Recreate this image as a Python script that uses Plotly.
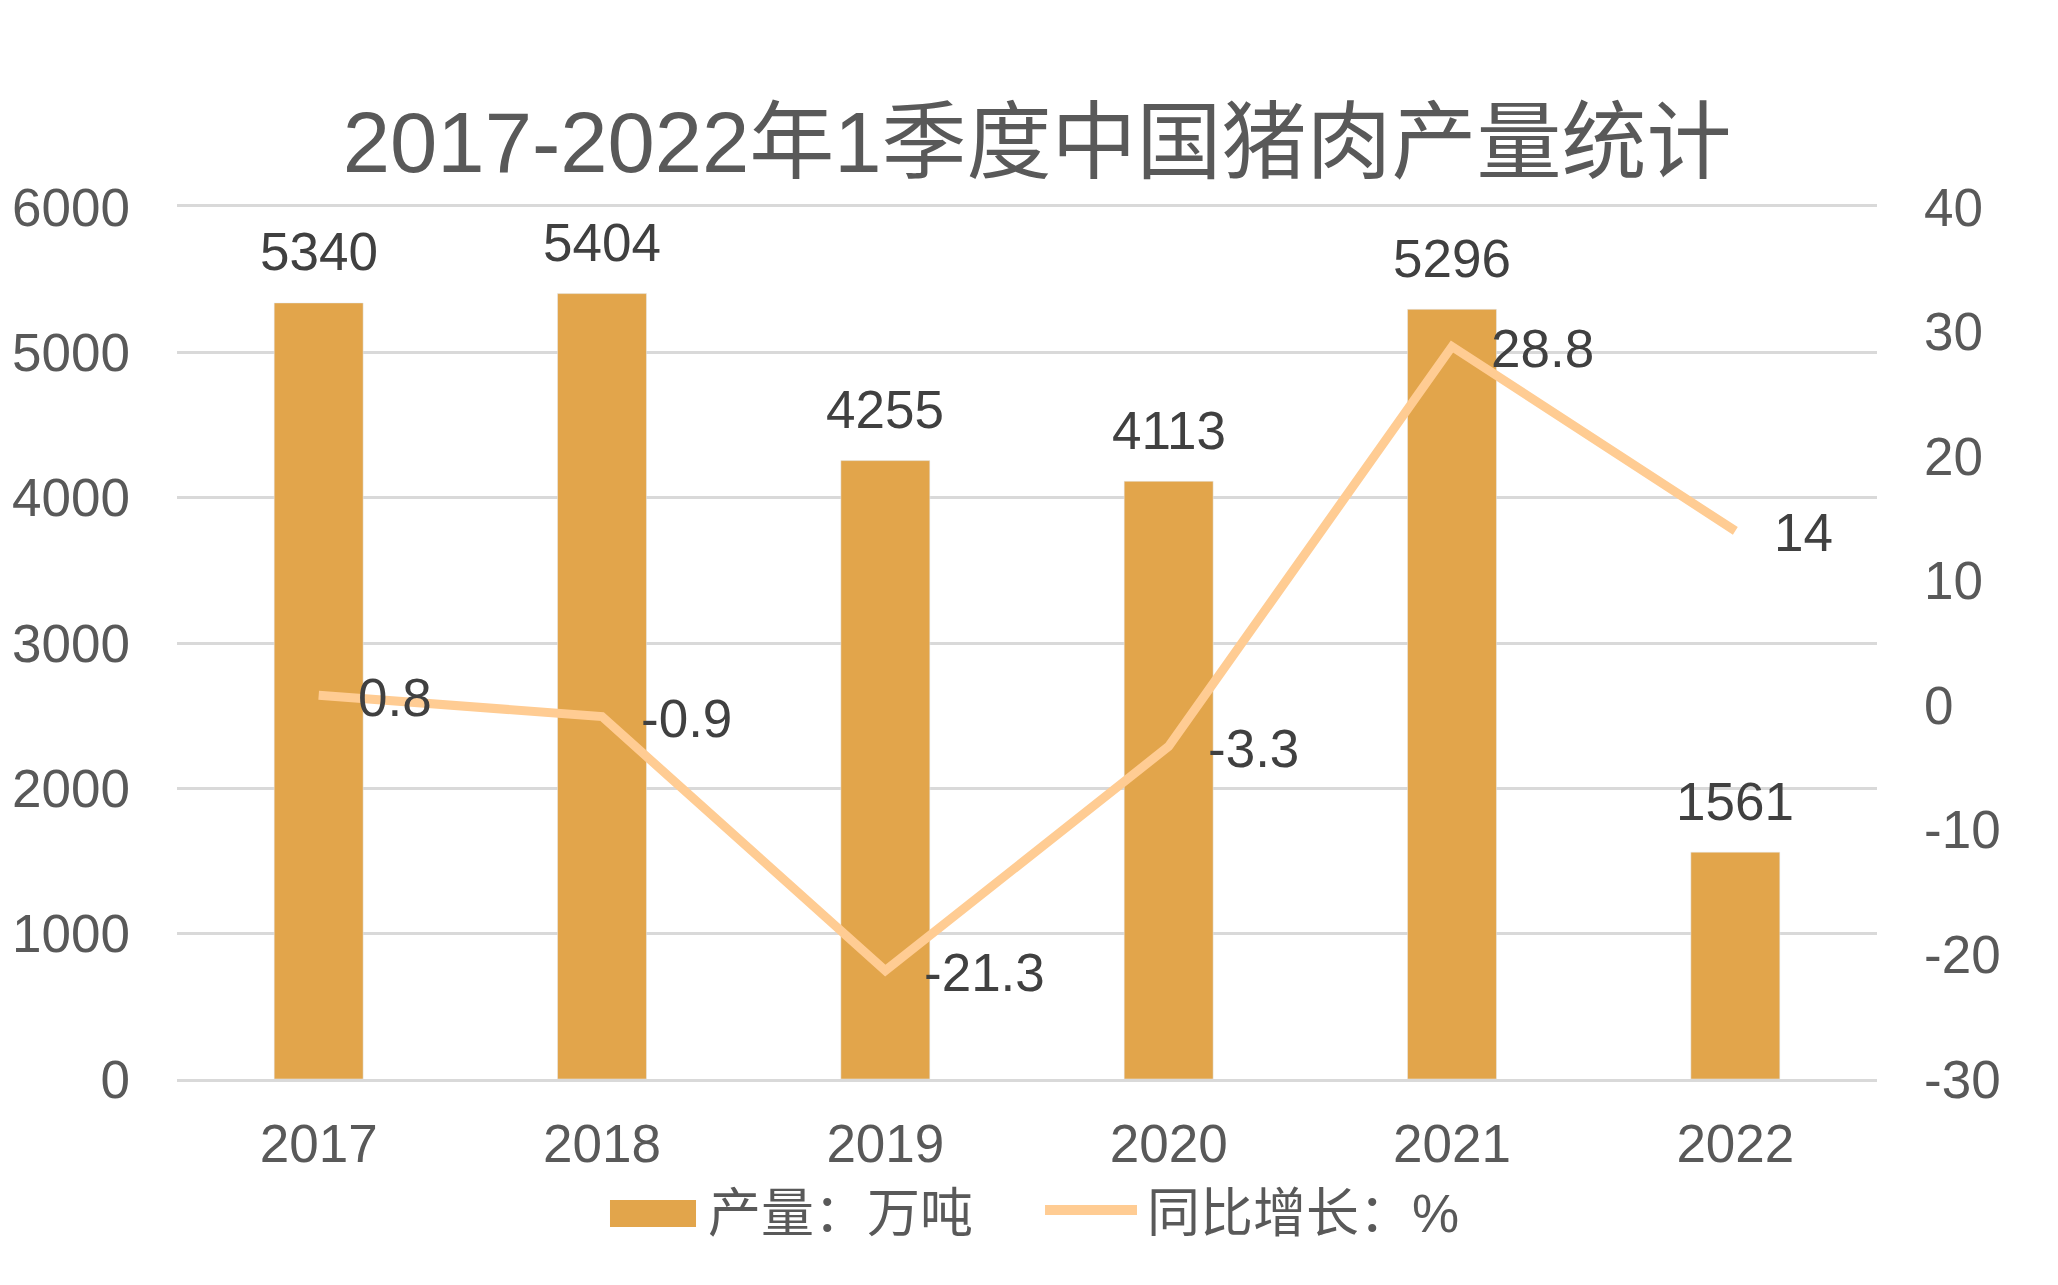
import plotly.graph_objects as go

years = ["2017", "2018", "2019", "2020", "2021", "2022"]
output_wt = [5340, 5404, 4255, 4113, 5296, 1561]
growth_pct = [0.8, -0.9, -21.3, -3.3, 28.8, 14]
right_ticks = [-30, -20, -10, 0, 10, 20, 30, 40]
bar_name = "产量：万吨"
line_name = "同比增长：%"
title_text = "2017-2022年1季度中国猪肉产量统计"

FONT = "Liberation Sans, Arial, Noto Sans CJK SC"
BAR_C = "#E2A54B"
LINE_C = "#FFCC93"
AX_C = "#595959"
LBL_C = "#404040"
GRID_C = "#D9D9D9"

fig = go.Figure()
fig.add_trace(go.Bar(x=years, y=output_wt, name=bar_name, marker_color=BAR_C,
                     width=0.314, showlegend=False))
fig.add_trace(go.Scatter(x=years, y=growth_pct, name=line_name, yaxis="y2", mode="lines",
                         line=dict(color=LINE_C, width=9), showlegend=False))

ann = []
for i, v in enumerate(output_wt):
    ann.append(dict(x=i, y=v, xref="x", yref="y", text=str(v), showarrow=False,
                    yanchor="middle", yshift=51, font=dict(size=53, color=LBL_C, family=FONT)))
for i, v in enumerate(growth_pct):
    ann.append(dict(x=i, y=v, xref="x", yref="y2", text=f"{v:g}", showarrow=False,
                    xanchor="left", yanchor="middle", xshift=37, yshift=-2,
                    font=dict(size=53, color=LBL_C, family=FONT)))
# legend
ann.append(dict(x=0.3112, y=-0.1548, xref="paper", yref="paper", text=bar_name, showarrow=False,
                xanchor="left", yanchor="middle", font=dict(size=53, color=AX_C, family=FONT)))
ann.append(dict(x=0.5694, y=-0.1548, xref="paper", yref="paper", text=line_name, showarrow=False,
                xanchor="left", yanchor="middle", font=dict(size=53, color=AX_C, family=FONT)))

shapes = [
    dict(type="rect", xref="paper", yref="paper", x0=0.2547, x1=0.3053, y0=-0.1697, y1=-0.1388,
         fillcolor=BAR_C, line=dict(width=0)),
    dict(type="line", xref="paper", yref="paper", x0=0.5106, x1=0.5647, y0=-0.1502, y1=-0.1502,
         line=dict(color=LINE_C, width=10)),
]

fig.update_layout(
    width=2058, height=1285,
    margin=dict(l=177, r=181, t=207, b=206),
    paper_bgcolor="white", plot_bgcolor="white",
    font=dict(family=FONT, size=53, color=AX_C),
    title=dict(text=title_text, x=0.506, xref="paper", xanchor="center",
               y=1 - 142 / 1285, yref="container", yanchor="middle",
               font=dict(size=85, color=AX_C, family=FONT)),
    xaxis=dict(type="category", range=[-0.5, len(years) - 0.5], autorange=False,
               showgrid=False, ticks="", showline=True, mirror=True, linecolor=GRID_C,
               linewidth=2.5, tickfont=dict(size=53, color=AX_C), ticklabelstandoff=17),
    yaxis=dict(range=[0, 6000], autorange=False, dtick=1000, showgrid=True, gridcolor=GRID_C,
               gridwidth=2.5, zeroline=False, showline=False, ticks="",
               tickfont=dict(size=53, color=AX_C), ticklabelstandoff=46),
    yaxis2=dict(range=[-30, 40], autorange=False, tickvals=right_ticks,
                ticktext=[str(t) for t in right_ticks], overlaying="y", side="right",
                showgrid=False, zeroline=False, showline=False, ticks="",
                tickfont=dict(size=53, color=AX_C), ticklabelstandoff=46),
    annotations=ann, shapes=shapes, showlegend=False,
)

fig.write_html("out.html")
